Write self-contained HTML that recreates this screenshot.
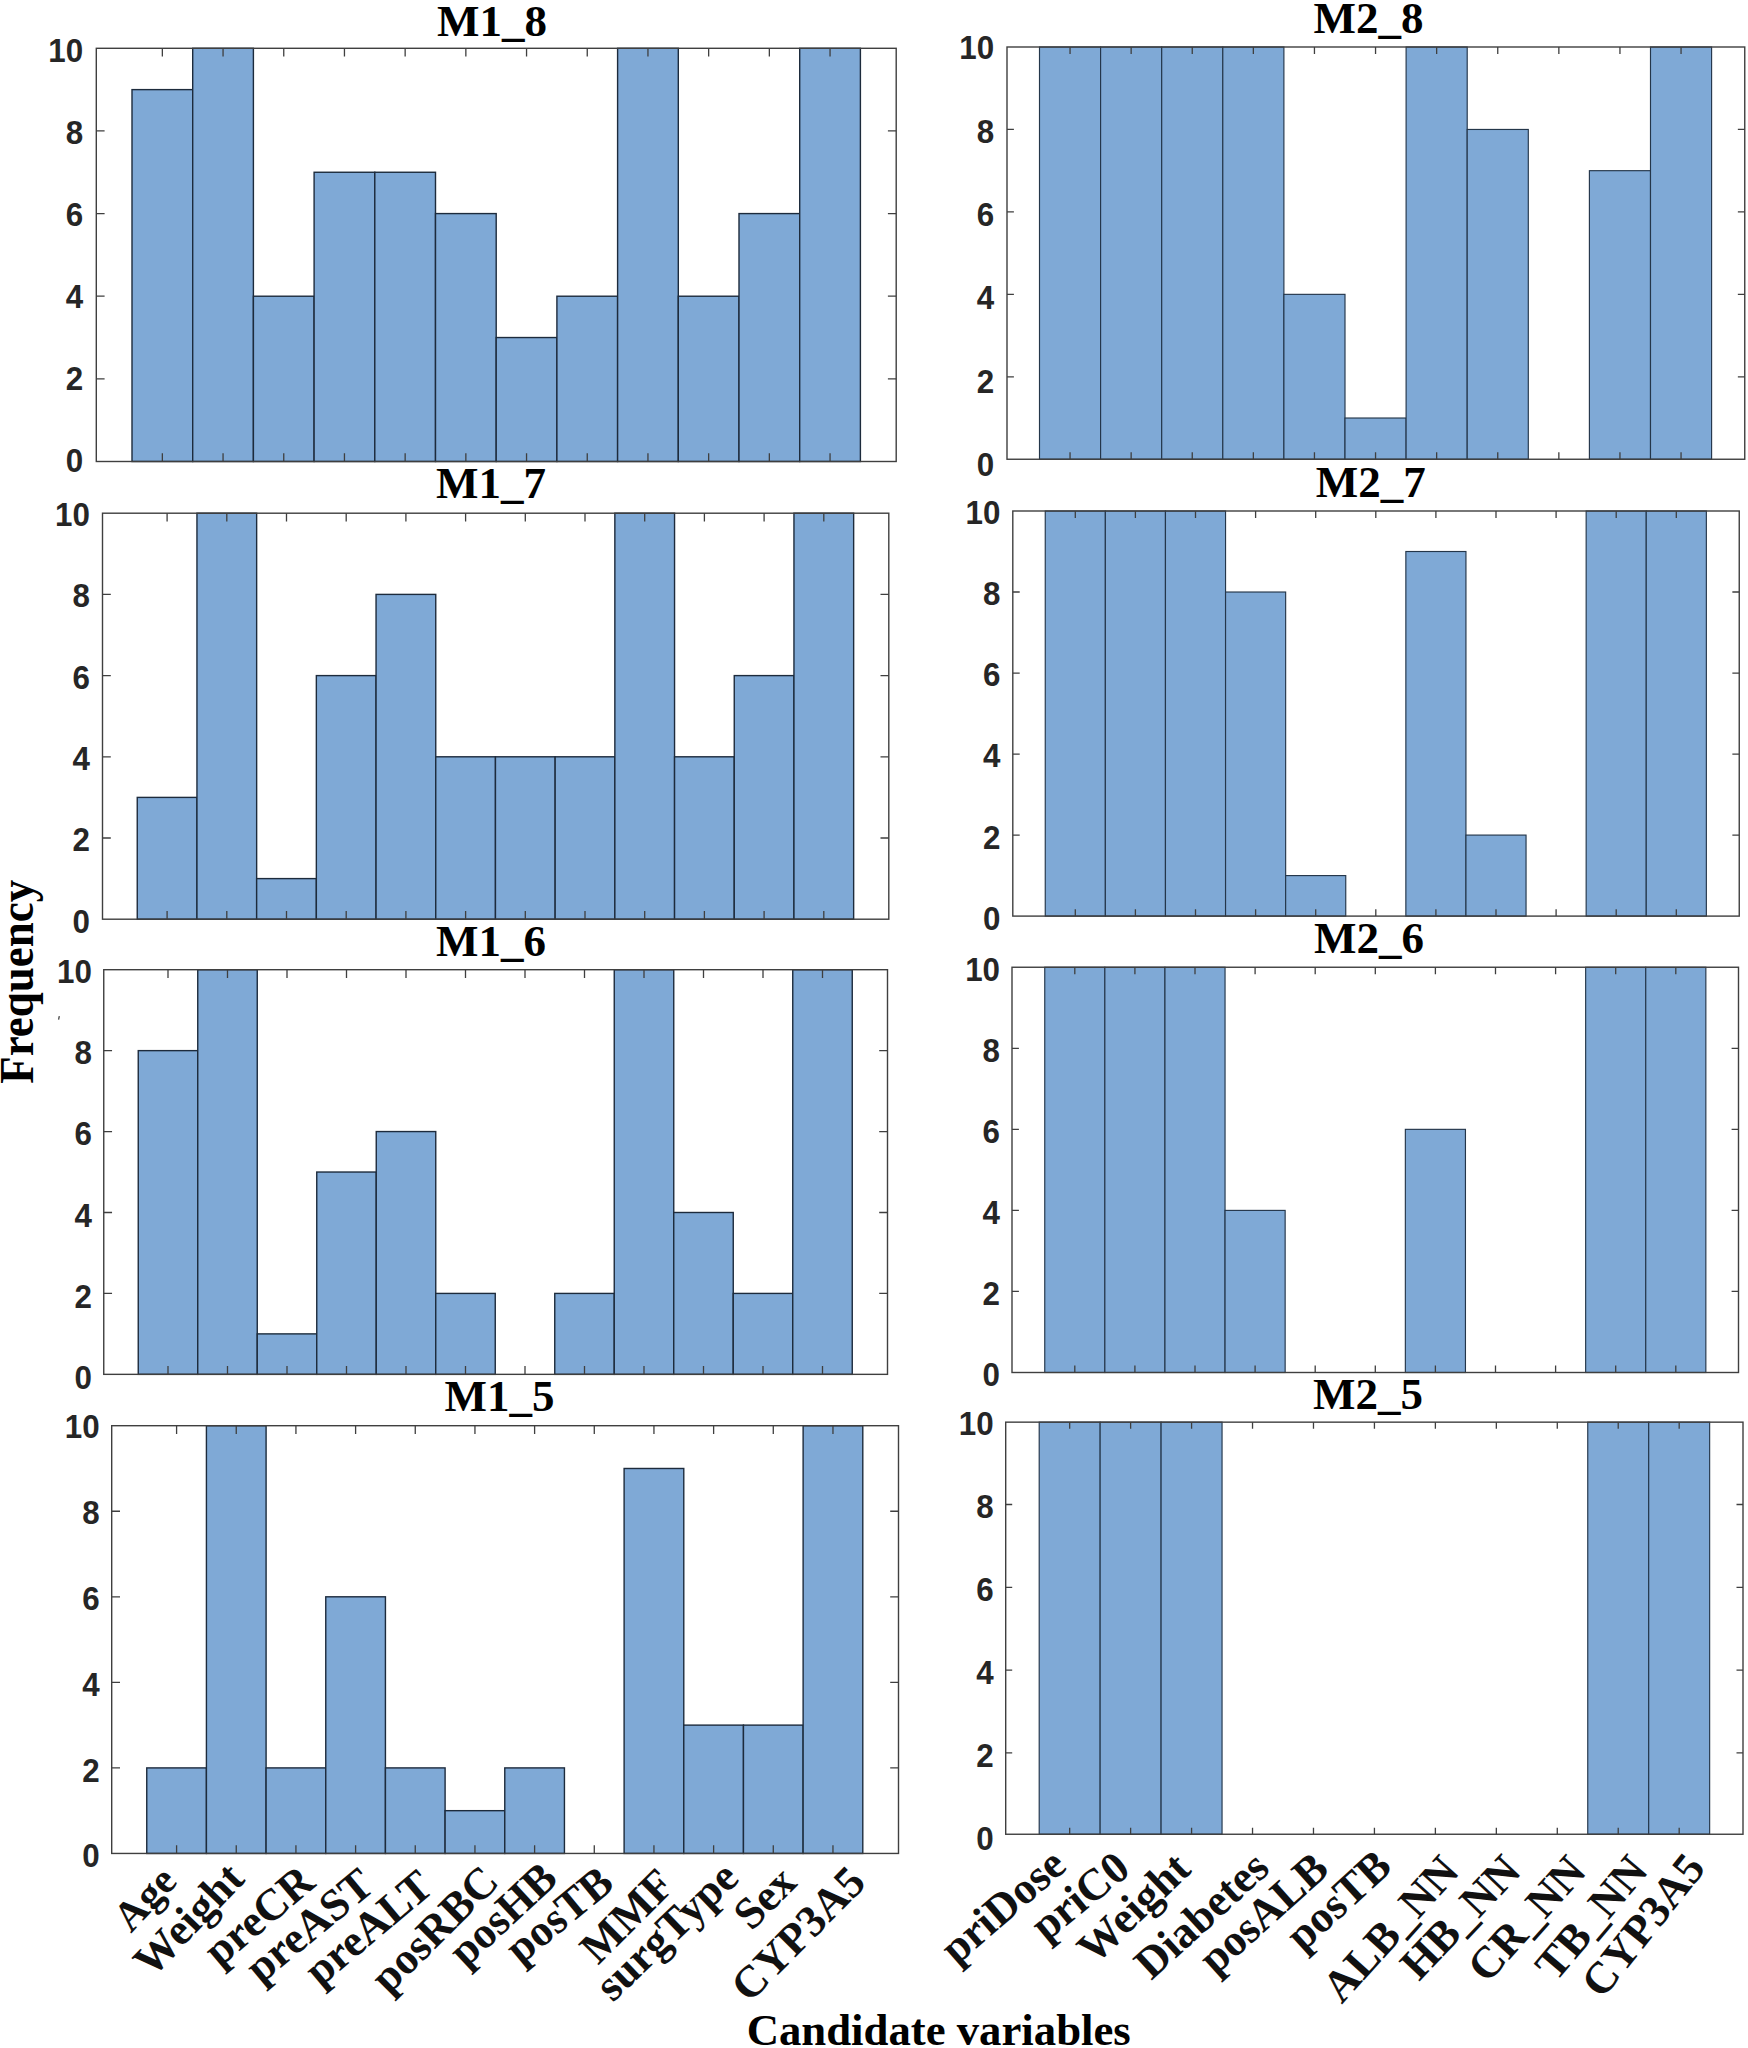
<!DOCTYPE html>
<html lang="en"><head><meta charset="utf-8"><title>Frequency of candidate variables</title>
<style>
html,body{margin:0;padding:0;background:#fff;}
body{width:1748px;height:2048px;overflow:hidden;}
svg{display:block;}
.tk{font-family:"Liberation Sans",Arial,Helvetica,sans-serif;font-weight:bold;font-size:33px;fill:#262626;text-anchor:end;}
.ti{font-family:"Liberation Serif","Times New Roman",Times,serif;font-weight:bold;font-size:45px;fill:#000000;text-anchor:middle;}
.xl{font-family:"Liberation Serif","Times New Roman",Times,serif;font-weight:bold;font-size:44.5px;fill:#111;text-anchor:end;}
.ax{fill:none;stroke:#3f3f3f;stroke-width:1.4;}
.tm{stroke:#3f3f3f;stroke-width:1.3;fill:none;}
.br{fill:#7fa9d6;stroke:#1d2b3c;stroke-width:1.4;}
.b2{stroke:#24364a;stroke-width:1.15;}
</style></head><body>
<svg width="1748" height="2048" viewBox="0 0 1748 2048">
<rect x="0" y="0" width="1748" height="2048" fill="#ffffff"/>
<g id="M1_8">
<rect class="br" x="132" y="89.62" width="60.7" height="371.88"/>
<rect class="br" x="192.7" y="48.3" width="60.7" height="413.2"/>
<rect class="br" x="253.4" y="296.22" width="60.7" height="165.28"/>
<rect class="br" x="314.1" y="172.26" width="60.7" height="289.24"/>
<rect class="br" x="374.8" y="172.26" width="60.7" height="289.24"/>
<rect class="br" x="435.5" y="213.58" width="60.7" height="247.92"/>
<rect class="br" x="496.2" y="337.54" width="60.7" height="123.96"/>
<rect class="br" x="556.9" y="296.22" width="60.7" height="165.28"/>
<rect class="br" x="617.6" y="48.3" width="60.7" height="413.2"/>
<rect class="br" x="678.3" y="296.22" width="60.7" height="165.28"/>
<rect class="br" x="739" y="213.58" width="60.7" height="247.92"/>
<rect class="br" x="799.7" y="48.3" width="60.7" height="413.2"/>
<path class="tm" d="M162.35 48.3v8.3M162.35 461.5v-8.3M223.05 48.3v8.3M223.05 461.5v-8.3M283.75 48.3v8.3M283.75 461.5v-8.3M344.45 48.3v8.3M344.45 461.5v-8.3M405.15 48.3v8.3M405.15 461.5v-8.3M465.85 48.3v8.3M465.85 461.5v-8.3M526.55 48.3v8.3M526.55 461.5v-8.3M587.25 48.3v8.3M587.25 461.5v-8.3M647.95 48.3v8.3M647.95 461.5v-8.3M708.65 48.3v8.3M708.65 461.5v-8.3M769.35 48.3v8.3M769.35 461.5v-8.3M830.05 48.3v8.3M830.05 461.5v-8.3M96.3 378.86h8.3M896.2 378.86h-8.3M96.3 296.22h8.3M896.2 296.22h-8.3M96.3 213.58h8.3M896.2 213.58h-8.3M96.3 130.94h8.3M896.2 130.94h-8.3"/>
<rect class="ax" x="96.3" y="48.3" width="799.9" height="413.2"/>
<text class="tk" transform="translate(83.2 472.27) scale(0.95 1.025)">0</text>
<text class="tk" transform="translate(83.2 390.24) scale(0.95 1.025)">2</text>
<text class="tk" transform="translate(83.2 308.21) scale(0.95 1.025)">4</text>
<text class="tk" transform="translate(83.2 226.18) scale(0.95 1.025)">6</text>
<text class="tk" transform="translate(83.2 144.15) scale(0.95 1.025)">8</text>
<text class="tk" transform="translate(83.2 62.12) scale(0.95 1.025)">10</text>
<text class="ti" x="492" y="35.5">M1_8</text>
</g>
<g id="M1_7">
<rect class="br" x="137.25" y="797.4" width="59.7" height="121.8"/>
<rect class="br" x="196.95" y="513.2" width="59.7" height="406"/>
<rect class="br" x="256.65" y="878.6" width="59.7" height="40.6"/>
<rect class="br" x="316.35" y="675.6" width="59.7" height="243.6"/>
<rect class="br" x="376.05" y="594.4" width="59.7" height="324.8"/>
<rect class="br" x="435.75" y="756.8" width="59.7" height="162.4"/>
<rect class="br" x="495.45" y="756.8" width="59.7" height="162.4"/>
<rect class="br" x="555.15" y="756.8" width="59.7" height="162.4"/>
<rect class="br" x="614.85" y="513.2" width="59.7" height="406"/>
<rect class="br" x="674.55" y="756.8" width="59.7" height="162.4"/>
<rect class="br" x="734.25" y="675.6" width="59.7" height="243.6"/>
<rect class="br" x="793.95" y="513.2" width="59.7" height="406"/>
<path class="tm" d="M167.1 513.2v8.3M167.1 919.2v-8.3M226.8 513.2v8.3M226.8 919.2v-8.3M286.5 513.2v8.3M286.5 919.2v-8.3M346.2 513.2v8.3M346.2 919.2v-8.3M405.9 513.2v8.3M405.9 919.2v-8.3M465.6 513.2v8.3M465.6 919.2v-8.3M525.3 513.2v8.3M525.3 919.2v-8.3M585 513.2v8.3M585 919.2v-8.3M644.7 513.2v8.3M644.7 919.2v-8.3M704.4 513.2v8.3M704.4 919.2v-8.3M764.1 513.2v8.3M764.1 919.2v-8.3M823.8 513.2v8.3M823.8 919.2v-8.3M102.5 838h8.3M888.8 838h-8.3M102.5 756.8h8.3M888.8 756.8h-8.3M102.5 675.6h8.3M888.8 675.6h-8.3M102.5 594.4h8.3M888.8 594.4h-8.3"/>
<rect class="ax" x="102.5" y="513.2" width="786.3" height="406"/>
<text class="tk" transform="translate(89.9 932.57) scale(0.95 1.025)">0</text>
<text class="tk" transform="translate(89.9 851.27) scale(0.95 1.025)">2</text>
<text class="tk" transform="translate(89.9 769.97) scale(0.95 1.025)">4</text>
<text class="tk" transform="translate(89.9 688.67) scale(0.95 1.025)">6</text>
<text class="tk" transform="translate(89.9 607.37) scale(0.95 1.025)">8</text>
<text class="tk" transform="translate(89.9 526.07) scale(0.95 1.025)">10</text>
<text class="ti" x="491" y="498.1">M1_7</text>
</g>
<g id="M1_6">
<rect class="br" x="138.25" y="1050.63" width="59.5" height="323.72"/>
<rect class="br" x="197.75" y="969.7" width="59.5" height="404.65"/>
<rect class="br" x="257.25" y="1333.88" width="59.5" height="40.46"/>
<rect class="br" x="316.75" y="1172.03" width="59.5" height="202.32"/>
<rect class="br" x="376.25" y="1131.56" width="59.5" height="242.79"/>
<rect class="br" x="435.75" y="1293.42" width="59.5" height="80.93"/>
<rect class="br" x="554.75" y="1293.42" width="59.5" height="80.93"/>
<rect class="br" x="614.25" y="969.7" width="59.5" height="404.65"/>
<rect class="br" x="673.75" y="1212.49" width="59.5" height="161.86"/>
<rect class="br" x="733.25" y="1293.42" width="59.5" height="80.93"/>
<rect class="br" x="792.75" y="969.7" width="59.5" height="404.65"/>
<path class="tm" d="M168 969.7v8.3M168 1374.35v-8.3M227.5 969.7v8.3M227.5 1374.35v-8.3M287 969.7v8.3M287 1374.35v-8.3M346.5 969.7v8.3M346.5 1374.35v-8.3M406 969.7v8.3M406 1374.35v-8.3M465.5 969.7v8.3M465.5 1374.35v-8.3M525 969.7v8.3M525 1374.35v-8.3M584.5 969.7v8.3M584.5 1374.35v-8.3M644 969.7v8.3M644 1374.35v-8.3M703.5 969.7v8.3M703.5 1374.35v-8.3M763 969.7v8.3M763 1374.35v-8.3M822.5 969.7v8.3M822.5 1374.35v-8.3M103.75 1293.42h8.3M887.5 1293.42h-8.3M103.75 1212.49h8.3M887.5 1212.49h-8.3M103.75 1131.56h8.3M887.5 1131.56h-8.3M103.75 1050.63h8.3M887.5 1050.63h-8.3"/>
<rect class="ax" x="103.75" y="969.7" width="783.75" height="404.65"/>
<text class="tk" transform="translate(92 1388.87) scale(0.95 1.025)">0</text>
<text class="tk" transform="translate(92 1307.69) scale(0.95 1.025)">2</text>
<text class="tk" transform="translate(92 1226.51) scale(0.95 1.025)">4</text>
<text class="tk" transform="translate(92 1145.33) scale(0.95 1.025)">6</text>
<text class="tk" transform="translate(92 1064.15) scale(0.95 1.025)">8</text>
<text class="tk" transform="translate(92 982.97) scale(0.95 1.025)">10</text>
<text class="ti" x="491" y="956.3">M1_6</text>
</g>
<g id="M1_5">
<rect class="br" x="146.75" y="1767.9" width="59.67" height="85.55"/>
<rect class="br" x="206.42" y="1425.7" width="59.67" height="427.75"/>
<rect class="br" x="266.09" y="1767.9" width="59.67" height="85.55"/>
<rect class="br" x="325.76" y="1596.8" width="59.67" height="256.65"/>
<rect class="br" x="385.43" y="1767.9" width="59.67" height="85.55"/>
<rect class="br" x="445.1" y="1810.67" width="59.67" height="42.78"/>
<rect class="br" x="504.77" y="1767.9" width="59.67" height="85.55"/>
<rect class="br" x="624.11" y="1468.48" width="59.67" height="384.97"/>
<rect class="br" x="683.78" y="1725.12" width="59.67" height="128.33"/>
<rect class="br" x="743.45" y="1725.12" width="59.67" height="128.33"/>
<rect class="br" x="803.12" y="1425.7" width="59.67" height="427.75"/>
<path class="tm" d="M176.59 1425.7v8.3M176.59 1853.45v-8.3M236.25 1425.7v8.3M236.25 1853.45v-8.3M295.93 1425.7v8.3M295.93 1853.45v-8.3M355.6 1425.7v8.3M355.6 1853.45v-8.3M415.26 1425.7v8.3M415.26 1853.45v-8.3M474.94 1425.7v8.3M474.94 1853.45v-8.3M534.61 1425.7v8.3M534.61 1853.45v-8.3M594.28 1425.7v8.3M594.28 1853.45v-8.3M653.94 1425.7v8.3M653.94 1853.45v-8.3M713.62 1425.7v8.3M713.62 1853.45v-8.3M773.28 1425.7v8.3M773.28 1853.45v-8.3M832.96 1425.7v8.3M832.96 1853.45v-8.3M111.7 1767.9h8.3M898.5 1767.9h-8.3M111.7 1682.35h8.3M898.5 1682.35h-8.3M111.7 1596.8h8.3M898.5 1596.8h-8.3M111.7 1511.25h8.3M898.5 1511.25h-8.3"/>
<rect class="ax" x="111.7" y="1425.7" width="786.8" height="427.75"/>
<text class="tk" transform="translate(99.6 1867.47) scale(0.95 1.025)">0</text>
<text class="tk" transform="translate(99.6 1781.63) scale(0.95 1.025)">2</text>
<text class="tk" transform="translate(99.6 1695.79) scale(0.95 1.025)">4</text>
<text class="tk" transform="translate(99.6 1609.95) scale(0.95 1.025)">6</text>
<text class="tk" transform="translate(99.6 1524.11) scale(0.95 1.025)">8</text>
<text class="tk" transform="translate(99.6 1438.27) scale(0.95 1.025)">10</text>
<text class="ti" x="499.5" y="1410.5">M1_5</text>
</g>
<g id="M2_8">
<rect class="br b2" x="1039.5" y="47" width="61.1" height="412.25"/>
<rect class="br b2" x="1100.6" y="47" width="61.1" height="412.25"/>
<rect class="br b2" x="1161.7" y="47" width="61.1" height="412.25"/>
<rect class="br b2" x="1222.8" y="47" width="61.1" height="412.25"/>
<rect class="br b2" x="1283.9" y="294.35" width="61.1" height="164.9"/>
<rect class="br b2" x="1345" y="418.02" width="61.1" height="41.23"/>
<rect class="br b2" x="1406.1" y="47" width="61.1" height="412.25"/>
<rect class="br b2" x="1467.2" y="129.45" width="61.1" height="329.8"/>
<rect class="br b2" x="1589.4" y="170.68" width="61.1" height="288.57"/>
<rect class="br b2" x="1650.5" y="47" width="61.1" height="412.25"/>
<path class="tm" d="M1070.05 47v6.9M1070.05 459.25v-6.9M1131.15 47v6.9M1131.15 459.25v-6.9M1192.25 47v6.9M1192.25 459.25v-6.9M1253.35 47v6.9M1253.35 459.25v-6.9M1314.45 47v6.9M1314.45 459.25v-6.9M1375.55 47v6.9M1375.55 459.25v-6.9M1436.65 47v6.9M1436.65 459.25v-6.9M1497.75 47v6.9M1497.75 459.25v-6.9M1558.85 47v6.9M1558.85 459.25v-6.9M1619.95 47v6.9M1619.95 459.25v-6.9M1681.05 47v6.9M1681.05 459.25v-6.9M1007 376.8h6.9M1744.75 376.8h-6.9M1007 294.35h6.9M1744.75 294.35h-6.9M1007 211.9h6.9M1744.75 211.9h-6.9M1007 129.45h6.9M1744.75 129.45h-6.9"/>
<rect class="ax" x="1007" y="47" width="737.75" height="412.25"/>
<text class="tk" transform="translate(994.2 475.92) scale(0.95 1.025)">0</text>
<text class="tk" transform="translate(994.2 392.62) scale(0.95 1.025)">2</text>
<text class="tk" transform="translate(994.2 309.32) scale(0.95 1.025)">4</text>
<text class="tk" transform="translate(994.2 226.02) scale(0.95 1.025)">6</text>
<text class="tk" transform="translate(994.2 142.72) scale(0.95 1.025)">8</text>
<text class="tk" transform="translate(994.2 59.42) scale(0.95 1.025)">10</text>
<text class="ti" x="1368.6" y="33.1">M2_8</text>
</g>
<g id="M2_7">
<rect class="br b2" x="1045.25" y="511" width="60.1" height="405.1"/>
<rect class="br b2" x="1105.35" y="511" width="60.1" height="405.1"/>
<rect class="br b2" x="1165.45" y="511" width="60.1" height="405.1"/>
<rect class="br b2" x="1225.55" y="592.02" width="60.1" height="324.08"/>
<rect class="br b2" x="1285.65" y="875.59" width="60.1" height="40.51"/>
<rect class="br b2" x="1405.85" y="551.51" width="60.1" height="364.59"/>
<rect class="br b2" x="1465.95" y="835.08" width="60.1" height="81.02"/>
<rect class="br b2" x="1586.15" y="511" width="60.1" height="405.1"/>
<rect class="br b2" x="1646.25" y="511" width="60.1" height="405.1"/>
<path class="tm" d="M1075.3 511v6.9M1075.3 916.1v-6.9M1135.4 511v6.9M1135.4 916.1v-6.9M1195.5 511v6.9M1195.5 916.1v-6.9M1255.6 511v6.9M1255.6 916.1v-6.9M1315.7 511v6.9M1315.7 916.1v-6.9M1375.8 511v6.9M1375.8 916.1v-6.9M1435.9 511v6.9M1435.9 916.1v-6.9M1496 511v6.9M1496 916.1v-6.9M1556.1 511v6.9M1556.1 916.1v-6.9M1616.2 511v6.9M1616.2 916.1v-6.9M1676.3 511v6.9M1676.3 916.1v-6.9M1012.8 835.08h6.9M1739.25 835.08h-6.9M1012.8 754.06h6.9M1739.25 754.06h-6.9M1012.8 673.04h6.9M1739.25 673.04h-6.9M1012.8 592.02h6.9M1739.25 592.02h-6.9"/>
<rect class="ax" x="1012.8" y="511" width="726.45" height="405.1"/>
<text class="tk" transform="translate(1000.45 929.67) scale(0.95 1.025)">0</text>
<text class="tk" transform="translate(1000.45 848.55) scale(0.95 1.025)">2</text>
<text class="tk" transform="translate(1000.45 767.43) scale(0.95 1.025)">4</text>
<text class="tk" transform="translate(1000.45 686.31) scale(0.95 1.025)">6</text>
<text class="tk" transform="translate(1000.45 605.19) scale(0.95 1.025)">8</text>
<text class="tk" transform="translate(1000.45 524.07) scale(0.95 1.025)">10</text>
<text class="ti" x="1370.7" y="496.8">M2_7</text>
</g>
<g id="M2_6">
<rect class="br b2" x="1044.75" y="967.25" width="60.1" height="405.25"/>
<rect class="br b2" x="1104.85" y="967.25" width="60.1" height="405.25"/>
<rect class="br b2" x="1164.95" y="967.25" width="60.1" height="405.25"/>
<rect class="br b2" x="1225.05" y="1210.4" width="60.1" height="162.1"/>
<rect class="br b2" x="1405.35" y="1129.35" width="60.1" height="243.15"/>
<rect class="br b2" x="1585.65" y="967.25" width="60.1" height="405.25"/>
<rect class="br b2" x="1645.75" y="967.25" width="60.1" height="405.25"/>
<path class="tm" d="M1074.8 967.25v6.9M1074.8 1372.5v-6.9M1134.9 967.25v6.9M1134.9 1372.5v-6.9M1195 967.25v6.9M1195 1372.5v-6.9M1255.1 967.25v6.9M1255.1 1372.5v-6.9M1315.2 967.25v6.9M1315.2 1372.5v-6.9M1375.3 967.25v6.9M1375.3 1372.5v-6.9M1435.4 967.25v6.9M1435.4 1372.5v-6.9M1495.5 967.25v6.9M1495.5 1372.5v-6.9M1555.6 967.25v6.9M1555.6 1372.5v-6.9M1615.7 967.25v6.9M1615.7 1372.5v-6.9M1675.8 967.25v6.9M1675.8 1372.5v-6.9M1012 1291.45h6.9M1738.5 1291.45h-6.9M1012 1210.4h6.9M1738.5 1210.4h-6.9M1012 1129.35h6.9M1738.5 1129.35h-6.9M1012 1048.3h6.9M1738.5 1048.3h-6.9"/>
<rect class="ax" x="1012" y="967.25" width="726.5" height="405.25"/>
<text class="tk" transform="translate(1000.05 1386.37) scale(0.95 1.025)">0</text>
<text class="tk" transform="translate(1000.05 1305.27) scale(0.95 1.025)">2</text>
<text class="tk" transform="translate(1000.05 1224.17) scale(0.95 1.025)">4</text>
<text class="tk" transform="translate(1000.05 1143.07) scale(0.95 1.025)">6</text>
<text class="tk" transform="translate(1000.05 1061.97) scale(0.95 1.025)">8</text>
<text class="tk" transform="translate(1000.05 980.87) scale(0.95 1.025)">10</text>
<text class="ti" x="1368.9" y="953.1">M2_6</text>
</g>
<g id="M2_5">
<rect class="br b2" x="1039.2" y="1422.15" width="60.95" height="412.1"/>
<rect class="br b2" x="1100.15" y="1422.15" width="60.95" height="412.1"/>
<rect class="br b2" x="1161.1" y="1422.15" width="60.95" height="412.1"/>
<rect class="br b2" x="1587.75" y="1422.15" width="60.95" height="412.1"/>
<rect class="br b2" x="1648.7" y="1422.15" width="60.95" height="412.1"/>
<path class="tm" d="M1069.67 1422.15v6.5M1069.67 1834.25v-6.5M1130.62 1422.15v6.5M1130.62 1834.25v-6.5M1191.58 1422.15v6.5M1191.58 1834.25v-6.5M1252.53 1422.15v6.5M1252.53 1834.25v-6.5M1313.48 1422.15v6.5M1313.48 1834.25v-6.5M1374.43 1422.15v6.5M1374.43 1834.25v-6.5M1435.38 1422.15v6.5M1435.38 1834.25v-6.5M1496.33 1422.15v6.5M1496.33 1834.25v-6.5M1557.28 1422.15v6.5M1557.28 1834.25v-6.5M1618.22 1422.15v6.5M1618.22 1834.25v-6.5M1679.18 1422.15v6.5M1679.18 1834.25v-6.5M1005.7 1752.8h6.5M1743 1752.8h-6.5M1005.7 1670.1h6.5M1743 1670.1h-6.5M1005.7 1587.3h6.5M1743 1587.3h-6.5M1005.7 1504.5h6.5M1743 1504.5h-6.5"/>
<rect class="ax" x="1005.7" y="1422.15" width="737.3" height="412.1"/>
<text class="tk" transform="translate(993.7 1849.77) scale(0.95 1.025)">0</text>
<text class="tk" transform="translate(993.7 1766.89) scale(0.95 1.025)">2</text>
<text class="tk" transform="translate(993.7 1684.01) scale(0.95 1.025)">4</text>
<text class="tk" transform="translate(993.7 1601.13) scale(0.95 1.025)">6</text>
<text class="tk" transform="translate(993.7 1518.25) scale(0.95 1.025)">8</text>
<text class="tk" transform="translate(993.7 1435.37) scale(0.95 1.025)">10</text>
<text class="ti" x="1368" y="1408.8">M2_5</text>
</g>
<g id="xl_M1">
<text class="xl" transform="translate(156.5 1862.1) rotate(-47) translate(0 30.26) scale(0.94) translate(0 -30.26)" x="0" y="0" dy="0.68em">Age</text>
<text class="xl" transform="translate(224.5 1859.7) rotate(-46.1)" x="0" y="0" dy="0.68em">Weight</text>
<text class="xl" transform="translate(297.4 1862.4) rotate(-40.3)" x="0" y="0" dy="0.68em">preCR</text>
<text class="xl" transform="translate(357.1 1865.7) rotate(-39.6)" x="0" y="0" dy="0.68em">preAST</text>
<text class="xl" transform="translate(415.9 1867.4) rotate(-40.1)" x="0" y="0" dy="0.68em">preALT</text>
<text class="xl" transform="translate(479.6 1862.3) rotate(-44.8)" x="0" y="0" dy="0.68em">posRBC</text>
<text class="xl" transform="translate(539.3 1859.1) rotate(-42.8)" x="0" y="0" dy="0.68em">posHB</text>
<text class="xl" transform="translate(596.8 1863.4) rotate(-39.5)" x="0" y="0" dy="0.68em">posTB</text>
<text class="xl" transform="translate(655.2 1865.7) rotate(-45)" x="0" y="0" dy="0.68em">MMF</text>
<text class="xl" transform="translate(719.7 1858.4) rotate(-43.8)" x="0" y="0" dy="0.68em">surgType</text>
<text class="xl" transform="translate(777.2 1863.2) rotate(-45)" x="0" y="0" dy="0.68em">Sex</text>
<text class="xl" transform="translate(846.2 1863.2) rotate(-45.2)" x="0" y="0" dy="0.68em">CYP3A5</text>
</g>
<g id="xl_M2">
<text class="xl" transform="translate(1048.6 1845.7) rotate(-41)" x="0" y="0" dy="0.68em">priDose</text>
<text class="xl" transform="translate(1113.2 1848.9) rotate(-39.1)" x="0" y="0" dy="0.68em">priC0</text>
<text class="xl" transform="translate(1171.7 1849.6) rotate(-43.9)" x="0" y="0" dy="0.68em">Weight</text>
<text class="xl" transform="translate(1250.9 1848.4) rotate(-42.6)" x="0" y="0" dy="0.68em">Diabetes</text>
<text class="xl" transform="translate(1311 1849.5) rotate(-41.9)" x="0" y="0" dy="0.68em">posALB</text>
<text class="xl" transform="translate(1373.5 1847) rotate(-42.4)" x="0" y="0" dy="0.68em">posTB</text>
<text class="xl" transform="translate(1438.4 1852.3) rotate(-48)" x="0" y="0" dy="0.68em">ALB_NN</text>
<text class="xl" transform="translate(1500.8 1851.8) rotate(-46.5)" x="0" y="0" dy="0.68em">HB_NN</text>
<text class="xl" transform="translate(1565.5 1852.3) rotate(-48)" x="0" y="0" dy="0.68em">CR_NN</text>
<text class="xl" transform="translate(1626.6 1852) rotate(-49.8)" x="0" y="0" dy="0.68em">TB_NN</text>
<text class="xl" transform="translate(1683.2 1849.7) rotate(-51.5)" x="0" y="0" dy="0.68em">CYP3A5</text>
</g>
<text class="ti" style="font-size:44.75px" x="938.7" y="2045">Candidate variables</text>
<text class="ti" transform="translate(33 981.8) rotate(-90) scale(1 1.06)" x="0" y="0">Frequency</text>
<path d="M59.3 1016.2L58.6 1019.6" stroke="#444" stroke-width="1.3" fill="none"/>
</svg>
</body></html>
